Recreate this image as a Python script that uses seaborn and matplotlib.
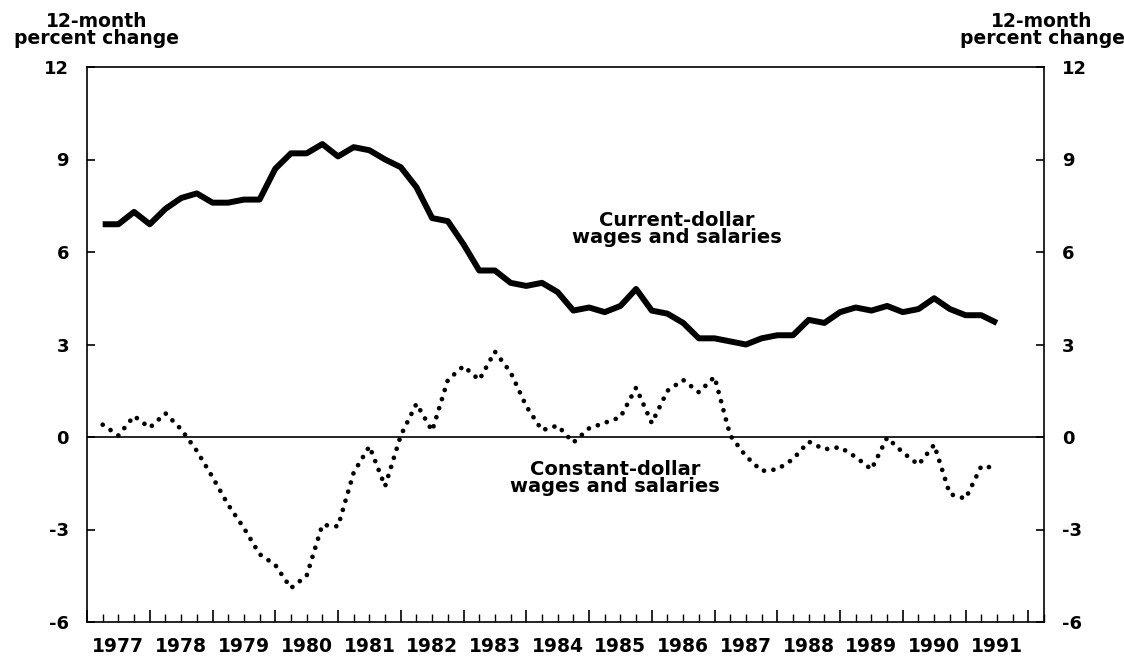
import numpy as np
import pandas as pd
import matplotlib.pyplot as plt
import seaborn as sns

# quarterly readings, plotted at the end of each quarter (1977 Q1 .. 1991 Q2)
period = np.arange(1977.25, 1991.51, 0.25)

current_dollar = [
    6.9, 6.9, 7.3, 6.9, 7.4, 7.75, 7.9, 7.6, 7.6, 7.7,
    7.7, 8.7, 9.2, 9.2, 9.5, 9.1, 9.4, 9.3, 9.0, 8.75,
    8.1, 7.1, 7.0, 6.25, 5.4, 5.4, 5.0, 4.9, 5.0, 4.7,
    4.1, 4.2, 4.05, 4.25, 4.8, 4.1, 4.0, 3.7, 3.2, 3.2,
    3.1, 3.0, 3.2, 3.3, 3.3, 3.8, 3.7, 4.05, 4.2, 4.1,
    4.25, 4.05, 4.15, 4.5, 4.15, 3.95, 3.95, 3.7,
]

constant_dollar = [
    0.4, 0.05, 0.68, 0.3, 0.77, 0.25, -0.45, -1.3, -2.2, -2.95,
    -3.8, -4.15, -4.9, -4.5, -2.85, -2.9, -1.15, -0.3, -1.6, 0.05,
    1.08, 0.2, 1.85, 2.3, 1.85, 2.77, 2.1, 1.0, 0.22, 0.37,
    -0.18, 0.28, 0.46, 0.64, 1.6, 0.45, 1.5, 1.85, 1.45, 1.95,
    0.05, -0.62, -1.1, -1.05, -0.72, -0.15, -0.4, -0.33, -0.65, -1.05,
    -0.02, -0.5, -0.9, -0.25, -1.85, -2.0, -0.95, -1.0,
]

years = list(range(1977, 1992))
y_ticks = [-6, -3, 0, 3, 6, 9, 12]

df = pd.DataFrame({'period': period,
                   'current': current_dollar,
                   'constant': constant_dollar})

sns.set_style('ticks')
plt.rcParams['font.family'] = ['DejaVu Sans']
plt.rcParams['font.weight'] = 'bold'
plt.rcParams['text.color'] = 'black'
plt.rcParams['xtick.color'] = 'black'
plt.rcParams['ytick.color'] = 'black'
plt.rcParams['axes.unicode_minus'] = False

W, H = 1124, 656
fig = plt.figure(figsize=(W / 100, H / 100), dpi=100)
ax = fig.add_axes([87 / W, 1 - 622 / H, (1044 - 87) / W, (622 - 67) / H])

# zero line
ax.axhline(0, color='black', lw=1.2, zorder=1)

# current-dollar series: heavy solid line
sns.lineplot(data=df, x='period', y='current', ax=ax, color='black',
             lw=4.3, solid_joinstyle='round', solid_capstyle='butt')

# constant-dollar series: round dots
sns.lineplot(data=df, x='period', y='constant', ax=ax, color='black',
             lw=3.4, linestyle=(0, (0.01, 2.0)), dash_capstyle='round')

ax.set_xlim(1977, 1992.25)
ax.set_ylim(-6, 12)
ax.set_xlabel('')
ax.set_ylabel('')

# x ticks: long ones at year starts, short ones at quarters
ax.set_xticks(np.arange(1977, 1993), labels=[])
ax.set_xticks(np.arange(1977.25, 1992.26, 0.25), minor=True)
ax.tick_params(axis='x', which='major', direction='in', length=8.5,
               width=1.2, bottom=True, top=False)
ax.tick_params(axis='x', which='minor', direction='in', length=5.5,
               width=1.0, bottom=True, top=False)

for yr in years:
    ax.text(yr + 0.5, -0.044, str(yr), transform=ax.get_xaxis_transform(),
            ha='center', va='center', fontsize=13.5, fontweight='bold')

ax.set_yticks(y_ticks)
ax.tick_params(axis='y', direction='in', length=6, width=1.2,
               left=True, right=True, labelleft=True, labelright=True,
               labelsize=13, pad=13, labelcolor='black')
for lab in ax.get_yticklabels():
    lab.set_fontweight('bold')

for s in ax.spines.values():
    s.set_visible(True)
    s.set_color('black')
    s.set_linewidth(1.2)

# axis titles, both sides
fig.text(97 / W, 1 - 12 / H, '12-month\npercent change', ha='center',
         va='top', fontsize=13.5, fontweight='bold', linespacing=0.85)
fig.text(1042 / W, 1 - 12 / H, '12-month\npercent change', ha='center',
         va='top', fontsize=13.5, fontweight='bold', linespacing=0.85)

# series labels
ax.text(1986.4, 6.74, 'Current-dollar\nwages and salaries', ha='center',
        va='center', fontsize=14, fontweight='bold', linespacing=0.85)
ax.text(1985.41, -1.33, 'Constant-dollar\nwages and salaries', ha='center',
        va='center', fontsize=14, fontweight='bold', linespacing=0.85)

fig.savefig('out.png', dpi=100)
